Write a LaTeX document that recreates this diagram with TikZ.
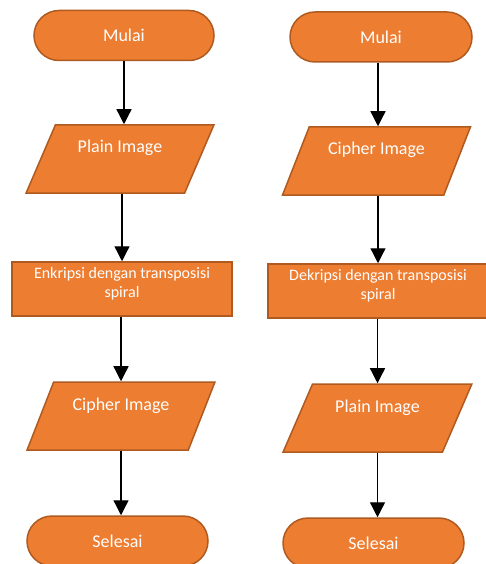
\documentclass[tikz,border=0pt]{standalone}
\usepackage{fontspec}
\setmainfont{Carlito}
\usetikzlibrary{arrows.meta,shapes.geometric}
\definecolor{ofOrange}{HTML}{ED7D31}
\definecolor{ofBorder}{HTML}{AE5A21}

\begin{document}
\begin{tikzpicture}[x=1pt, y=-1pt,
  font=\fontsize{18}{22}\selectfont,
  term/.style={draw=ofBorder, fill=ofOrange, text=white, line width=1.5pt, rounded corners=25pt, minimum width=#1, minimum height=50pt, inner sep=0pt},
  io/.style={trapezium, trapezium left angle=62, trapezium right angle=118, trapezium stretches=true, draw=ofBorder, fill=ofOrange, text=white, line width=1.5pt, minimum width=#1, minimum height=68pt, inner sep=0pt, text height=12pt, text depth=24pt},
  proc/.style={rectangle, draw=ofBorder, fill=ofOrange, text=white, line width=1.5pt, minimum width=#1, minimum height=54pt, inner sep=0pt, align=center, font=\fontsize{16}{19.5}\selectfont, text depth=13pt},
  arr/.style={-{Triangle[length=15pt, width=15pt]}, line width=1.3pt}
]
\useasboundingbox (0,0) rectangle (485,564);
% left column: enkripsi
\node[term=180pt] (mulaiA) at (124,35.5) {Mulai};
\node[io=188pt] (inA) at (120,159) {Plain Image};
\node[proc=220pt] (procA) at (122,289) {Enkripsi dengan transposisi\\spiral};
\node[io=188pt] (outA) at (121,416) {Cipher Image};
\node[term=181pt] (endA) at (117.5,541) {Selesai};
% right column: dekripsi
\node[term=182pt] (mulaiB) at (381,37) {Mulai};
\node[io=188pt] (inB) at (376.5,161) {Cipher Image};
\node[proc=220pt] (procB) at (378,291) {Dekripsi dengan transposisi\\spiral};
\node[io=189pt] (outB) at (377.5,418) {Plain Image};
\node[term=181pt] (endB) at (373.5,543) {Selesai};
% arrows
\draw[arr] (mulaiA.south) -- (mulaiA.south |- inA.north);
\draw[arr] (procA.north |- inA.south) -- (procA.north);
\draw[arr] (outA.north |- procA.south) -- (outA.north);
\draw[arr] (outA.south) -- (outA.south |- endA.north);
\draw[arr] (procB.north |- mulaiB.south) -- (procB.north |- inB.north);
\draw[arr] (procB.north |- inB.south) -- (procB.north);
\draw[arr] (outB.north |- procB.south) -- (outB.north);
\draw[arr] (outB.south) -- (outB.south |- endB.north);
\end{tikzpicture}
\end{document}
